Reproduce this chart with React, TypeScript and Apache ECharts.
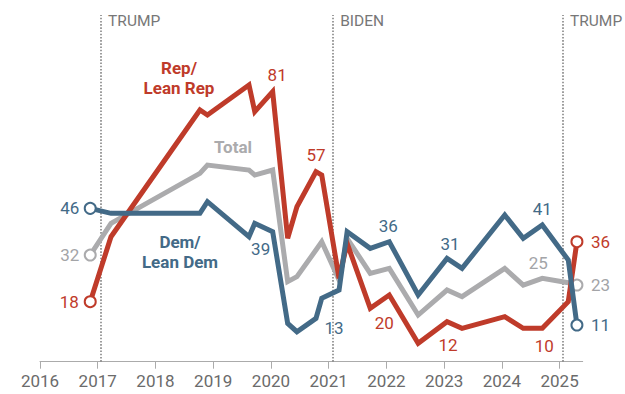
import React, { useEffect, useRef } from "react";
import * as echarts from "echarts";

// Survey dates (decimal years)
const surveyDates = [
  2016.87, 2017.23, 2018.77, 2018.9, 2019.62, 2019.72, 2020.03, 2020.29,
  2020.45, 2020.78, 2020.88, 2021.18, 2021.32, 2021.72, 2022.05, 2022.55,
  2023.05, 2023.31, 2024.05, 2024.37, 2024.7, 2025.15, 2025.3,
];
const repValues = [
  18, 37.5, 75.5, 74, 83, 75, 81, 37, 46.5, 57, 56, 25, 35.5, 16, 20, 5.5,
  12, 10, 13.5, 10, 10, 18, 36,
];
const demValues = [
  46, 44.5, 44.5, 48, 37.5, 41.5, 39, 11.5, 9, 13, 19, 21.5, 39, 34, 36, 20,
  31, 28, 44, 37, 41, 30.5, 11,
];
const totalValues = [
  32, 41.5, 56.5, 59, 57.5, 56, 57.5, 24, 25.5, 33.5, 36, 24.5, 37, 26.5, 28,
  14, 21.5, 19.5, 28, 23, 25, 23.7, 23,
];
const yearTicks = [2016, 2017, 2018, 2019, 2020, 2021, 2022, 2023, 2024, 2025];
const eras = [
  { name: "TRUMP", start: 2017.05 },
  { name: "BIDEN", start: 2021.07 },
  { name: "TRUMP", start: 2025.05 },
];

const RED = "#BF3B2A";
const BLUE = "#436A87";
const GRAY = "#ABABAD";
const GRAY_TEXT = "#A3A4A7";
const FONT = "Roboto, 'Noto Sans', sans-serif";

// label placement: index -> [dx, dy] offsets (style only)
const repLabelPos: Record<number, number[]> = {
  0: [-21, 0], 6: [4.5, -16.5], 9: [0, -16.5], 14: [-5, 28], 16: [1, 23], 20: [2, 18], 22: [23.5, 0],
};
const demLabelPos: Record<number, number[]> = {
  0: [-20.5, 0], 6: [-12, 17], 9: [18, 10], 14: [-1, -16], 16: [3, -14], 20: [0, -16], 22: [23.5, 0],
};
const totalLabelPos: Record<number, number[]> = {
  0: [-20.5, 0], 20: [-4, -15], 22: [23.5, 0],
};

function buildData(values: number[], color: string, textColor: string, pos: Record<number, number[]>) {
  const last = values.length - 1;
  return values.map((v, i) => {
    const isEnd = i === 0 || i === last;
    const p = pos[i];
    const item: any = { value: [surveyDates[i], v] };
    if (isEnd) {
      item.symbol = "circle";
      item.symbolSize = 11;
      item.itemStyle = { color: "#fff", borderColor: color, borderWidth: 2 };
    } else if (p) {
      item.symbol = "circle";
      item.symbolSize = 1;
      item.itemStyle = { color: "rgba(0,0,0,0)", borderWidth: 0 };
    } else {
      item.symbol = "none";
    }
    if (p) {
      item.label = {
        show: true,
        position: "inside",
        offset: p,
        formatter: String(Math.round(v)),
        color: textColor,
        fontSize: 17,
        fontFamily: FONT,
      };
    }
    return item;
  });
}

export default function App() {
  const ref = useRef<HTMLDivElement>(null);
  useEffect(() => {
    if (!ref.current) return;
    const chart = echarts.init(ref.current, null, { renderer: "svg" });
    const lineSeries = (name: string, values: number[], color: string, textColor: string, pos: Record<number, number[]>, z: number) => ({
      type: "line",
      name,
      z,
      data: buildData(values, color, textColor, pos),
      symbol: "none",
      showSymbol: true,
      showAllSymbol: true,
      lineStyle: { color, width: 5, join: "miter" },
      itemStyle: { color },
      silent: true,
    });
    const total: any = lineSeries("Total", totalValues, GRAY, GRAY_TEXT, totalLabelPos, 2);
    total.markLine = {
      silent: true,
      symbol: "none",
      z: 1,
      label: { show: false },
      lineStyle: { type: "dotted", color: "#858585", width: 1.6 },
      data: eras.map((e) => [{ coord: [e.start, 0] }, { coord: [e.start, 104] }]),
    };
    total.markPoint = {
      silent: true,
      symbol: "circle",
      symbolSize: 1,
      itemStyle: { color: "rgba(0,0,0,0)" },
      label: {
        show: true,
        position: "right",
        distance: 7,
        color: "#777777",
        fontSize: 15.5,
        fontFamily: FONT,
        formatter: (p: any) => p.name,
      },
      data: eras.map((e) => ({ name: e.name, coord: [e.start, 102.3] })),
    };
    chart.setOption({
      animation: false,
      grid: { left: 40, right: 42.3, top: 11.7, bottom: 32.3 },
      xAxis: {
        type: "value",
        min: yearTicks[0],
        max: 2025.4,
        interval: 1,
        axisLine: { show: true, lineStyle: { color: "#ABABAB", width: 1 } },
        axisTick: { show: true, length: 7, lineStyle: { color: "#ABABAB" } },
        axisLabel: {
          show: true,
          margin: 11,
          color: "#6B6B6B",
          fontSize: 17,
          fontFamily: FONT,
          showMaxLabel: false,
          formatter: (v: number) => (yearTicks.includes(v) ? String(v) : ""),
        },
        splitLine: { show: false },
      },
      yAxis: { type: "value", min: 0, max: 105, show: false },
      series: [
        total,
        lineSeries("Rep/Lean Rep", repValues, RED, RED, repLabelPos, 3),
        lineSeries("Dem/Lean Dem", demValues, BLUE, BLUE, demLabelPos, 4),
      ],
      graphic: [
        {
          type: "text",
          x: 179,
          y: 78,
          style: {
            text: "Rep/\nLean Rep",
            fill: RED,
            font: `bold 17px ${FONT}`,
            textAlign: "center",
            textVerticalAlign: "middle",
            lineHeight: 20,
          },
        },
        {
          type: "text",
          x: 233,
          y: 147,
          style: {
            text: "Total",
            fill: GRAY,
            font: `bold 17px ${FONT}`,
            textAlign: "center",
            textVerticalAlign: "middle",
          },
        },
        {
          type: "text",
          x: 180,
          y: 251.7,
          style: {
            text: "Dem/\nLean Dem",
            fill: BLUE,
            font: `bold 17px ${FONT}`,
            textAlign: "center",
            textVerticalAlign: "middle",
            lineHeight: 20,
          },
        },
      ],
    });
    return () => chart.dispose();
  }, []);
  return (
    <div
      ref={ref}
      style={{ position: "fixed", left: 0, top: 0, width: 625, height: 394, background: "#fff" }}
    />
  );
}
